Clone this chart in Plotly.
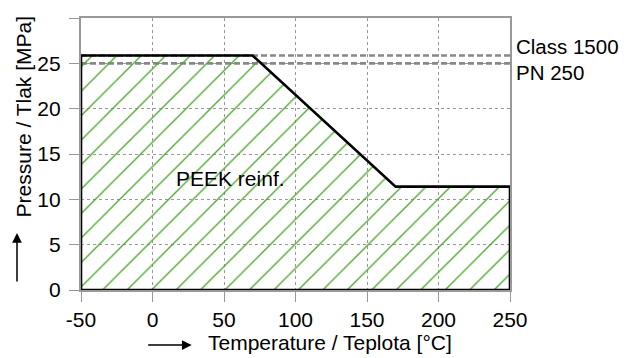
import plotly.graph_objects as go

# Pressure-temperature rating (PEEK reinf.)
temp = [-50, 70, 170, 250, 250, -50, -50]
pressure = [25.86, 25.86, 11.4, 11.4, 0, 0, 25.86]

class1500_x = [-50, 250]
class1500_y = [25.86, 25.86]
pn250_x = [-50, 250]
pn250_y = [25.0, 25.0]

x_ticks = [-50, 0, 50, 100, 150, 200, 250]
x_ticktext = ["-50", "0", "50", "100", "150", "200", "250"]
y_ticks = [0, 5, 10, 15, 20, 25, 30]

FONT = "Liberation Sans, Arial, sans-serif"
FS = 21
fig = go.Figure()

fig.add_trace(go.Scatter(x=class1500_x, y=class1500_y, mode="lines",
                         line=dict(color="#888888", width=2.6, dash="6px,3px"),
                         hoverinfo="skip", showlegend=False))
fig.add_trace(go.Scatter(x=pn250_x, y=pn250_y, mode="lines",
                         line=dict(color="#888888", width=2.6, dash="6px,3px"),
                         hoverinfo="skip", showlegend=False))
fig.add_trace(go.Scatter(x=temp, y=pressure, mode="lines", fill="toself",
                         fillcolor="rgba(255,255,255,0)",
                         fillpattern=dict(shape="/", fgcolor="#4ea630", fgopacity=1,
                                          bgcolor="rgba(255,255,255,0)",
                                          size=17.3, solidity=0.08),
                         line=dict(color="black", width=2.6), showlegend=False))

fig.add_annotation(x=1, xref="paper", xshift=4, xanchor="left", y=26.9, yref="y",
                   text="Class 1500", showarrow=False, font=dict(family=FONT, size=20.5, color="black"))
fig.add_annotation(x=1, xref="paper", xshift=4, xanchor="left", y=24.0, yref="y",
                   text="PN 250", showarrow=False, font=dict(family=FONT, size=20.5, color="black"))
fig.add_annotation(x=54.2, y=12.3, text="PEEK reinf.", showarrow=False,
                   font=dict(family=FONT, size=FS, color="black"))

# axis titles
fig.add_annotation(x=0.58, xref="paper", y=0, yref="paper", yshift=-52,
                   xanchor="center", yanchor="middle",
                   text="Temperature / Teplota [°C]", showarrow=False,
                   font=dict(family=FONT, size=FS, color="black"))
fig.add_annotation(x=0, xref="paper", xshift=-58, y=0.638, yref="paper",
                   xanchor="center", yanchor="middle",
                   text="Pressure / Tlak [MPa]", textangle=-90, showarrow=False,
                   font=dict(family=FONT, size=FS, color="black"))
# arrows
fig.add_annotation(x=0.258, xref="paper", y=0, yref="paper", yshift=-55, text="",
                   showarrow=True, ax=-45, ay=0, arrowhead=2, arrowsize=1.3, arrowwidth=1.5,
                   arrowcolor="black")
fig.add_annotation(x=0, xref="paper", xshift=-64, y=0.21, yref="paper", text="",
                   showarrow=True, ax=0, ay=50, arrowhead=2, arrowsize=1.3, arrowwidth=1.5,
                   arrowcolor="black")

axis_common = dict(showline=True, linecolor="#999999", linewidth=2.3, mirror=True,
                   ticks="outside", ticklen=10, tickcolor="#999999", tickwidth=1,
                   showgrid=True, gridcolor="#999999", griddash="dot", gridwidth=1,
                   zeroline=False, automargin=False,
                   tickfont=dict(family=FONT, size=FS, color="black"))
fig.update_xaxes(range=[-50, 250], tickvals=x_ticks, ticktext=x_ticktext,
                 ticklabelstandoff=0, **axis_common)
fig.update_yaxes(range=[0, 30], tickvals=y_ticks, ticklabelstandoff=4, **axis_common)

# the page adds an 8px body margin, so the figure is 8px smaller and margins shifted
fig.update_layout(width=619, height=350, margin=dict(l=73, r=117, t=10, b=68),
                  plot_bgcolor="white", paper_bgcolor="white", showlegend=False)

fig.write_html("out.html")
